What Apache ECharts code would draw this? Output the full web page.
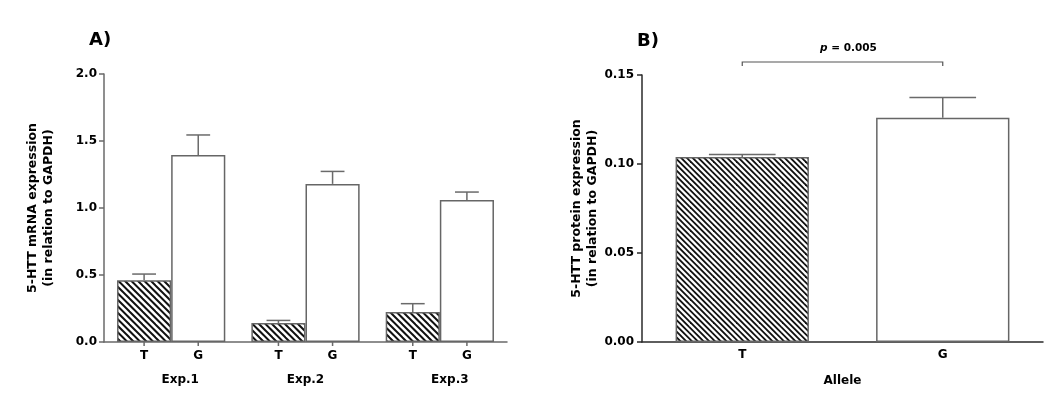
<!DOCTYPE html>
<html>
<head>
<meta charset="utf-8">
<script src="https://cdn.jsdelivr.net/npm/echarts@6/dist/echarts.min.js"></script>
<style>
html,body{margin:0;padding:0;background:#fff;}
#c{width:1050px;height:402px;}
</style>
</head>
<body>
<div id="c"></div>
<script>
// ---- data ----
var experiments = ['Exp.1', 'Exp.2', 'Exp.3'];
var alleles = ['T', 'G'];
var mrnaT = [0.46, 0.142, 0.224];
var mrnaTErr = [0.047, 0.019, 0.062];
var mrnaG = [1.395, 1.18, 1.06];
var mrnaGErr = [0.15, 0.093, 0.059];
var protein = [0.1039, 0.126];
var proteinErr = [0.0015, 0.0114];
var mrnaTicks = [0, 0.5, 1.0, 1.5, 2.0];
var proteinTicks = [0, 0.05, 0.10, 0.15];
var sigLevel = 0.1573;
var sigLabel = 'p = 0.005';

// ---- styles ----
var FONT = 'DejaVu Sans';
var axisA = '#6a6a6a';
var axisB = '#2a2a2a';
var barBorder = '#666';
var barFracA = 0.403;
var barFracB = 0.665;

function hatch(size, gap, lw) {
  var c = document.createElement('canvas');
  c.width = size; c.height = size;
  var ctx = c.getContext('2d');
  ctx.fillStyle = '#fff';
  ctx.fillRect(0, 0, size, size);
  ctx.strokeStyle = '#111';
  ctx.lineWidth = lw;
  for (var k = -size; k <= size; k += gap) {
    ctx.beginPath();
    ctx.moveTo(k - 2, -2);
    ctx.lineTo(k + size + 2, size + 2);
    ctx.stroke();
  }
  return c;
}
var hatchA = { image: hatch(13, 6.5, 2), repeat: 'repeat' };
var hatchB = { image: hatch(23, 5.75, 1.9), repeat: 'repeat' };

var errDataA = [];
for (var i = 0; i < experiments.length; i++) {
  errDataA.push([i, mrnaT[i], mrnaTErr[i], 0]);
  errDataA.push([i, mrnaG[i], mrnaGErr[i], 1]);
}
var errDataB = protein.map(function (v, i) { return [i, v, proteinErr[i]]; });

var chart = echarts.init(document.getElementById('c'), null, { renderer: 'canvas' });

var txt = { fontFamily: FONT, fontWeight: 'bold', color: '#000', fontSize: 12 };

var option = {
  backgroundColor: '#fff',
  animation: false,
  title: [
    { text: 'A)', left: 84, top: 26, textStyle: { fontFamily: FONT, fontWeight: 'bold', fontSize: 18, color: '#000' } },
    { text: 'B)', left: 632, top: 27, textStyle: { fontFamily: FONT, fontWeight: 'bold', fontSize: 18, color: '#000' } }
  ],
  grid: [
    { left: 104, top: 74, width: 403, height: 268 },
    { left: 642, top: 75, width: 401, height: 267 }
  ],
  xAxis: [
    {
      type: 'category', gridIndex: 0, data: experiments, boundaryGap: true,
      axisLine: { lineStyle: { color: axisA, width: 1.5 } },
      axisTick: { show: false },
      axisLabel: {
        margin: 2, interval: 0,
        formatter: function (v, idx) {
          return '{t|' + alleles[0] + '}{g|' + alleles[1] + '}\n{e' + idx + '|' + v + '}';
        },
        rich: {
          t: { width: 54, align: 'center', lineHeight: 24, fontFamily: FONT, fontWeight: 'bold', fontSize: 12, color: '#000' },
          g: { width: 54, align: 'center', lineHeight: 24, fontFamily: FONT, fontWeight: 'bold', fontSize: 12, color: '#000' },
          e0: { align: 'center', lineHeight: 24, padding: [0, 0, 0, 18], fontFamily: FONT, fontWeight: 'bold', fontSize: 12, color: '#000' },
          e1: { align: 'center', lineHeight: 24, padding: [0, 0, 0, 0], fontFamily: FONT, fontWeight: 'bold', fontSize: 12, color: '#000' },
          e2: { align: 'center', lineHeight: 24, padding: [0, 0, 0, 20], fontFamily: FONT, fontWeight: 'bold', fontSize: 12, color: '#000' }
        }
      }
    },
    {
      type: 'category', gridIndex: 1, data: alleles, boundaryGap: true,
      axisLine: { lineStyle: { color: axisB, width: 1.5 } },
      axisTick: { alignWithLabel: true, length: 5, lineStyle: { color: axisB, width: 1.5 } },
      axisLabel: Object.assign({ margin: 7 }, txt),
      name: 'Allele', nameLocation: 'middle', nameGap: 33,
      nameTextStyle: Object.assign({}, txt)
    }
  ],
  yAxis: [
    {
      type: 'value', gridIndex: 0, min: mrnaTicks[0], max: mrnaTicks[mrnaTicks.length - 1], interval: 0.5,
      axisLine: { show: true, lineStyle: { color: axisA, width: 1.5 } },
      axisTick: { show: true, length: 5, lineStyle: { color: axisA, width: 1.5 } },
      splitLine: { show: false },
      axisLabel: Object.assign({ margin: 7, formatter: function (v) { return v.toFixed(1); } }, txt),
      name: '5-HTT mRNA expression\n(in relation to GAPDH)', nameLocation: 'middle', nameGap: 47, nameRotate: 90,
      nameTextStyle: Object.assign({ lineHeight: 16, align: 'center' }, txt, { fontSize: 12.5 })
    },
    {
      type: 'value', gridIndex: 1, min: proteinTicks[0], max: proteinTicks[proteinTicks.length - 1], interval: 0.05,
      axisLine: { show: true, lineStyle: { color: axisB, width: 1.5 } },
      axisTick: { show: true, length: 5, lineStyle: { color: axisB, width: 1.5 } },
      splitLine: { show: false },
      axisLabel: Object.assign({ margin: 8, formatter: function (v) { return v.toFixed(2); } }, txt),
      name: '5-HTT protein expression\n(in relation to GAPDH)', nameLocation: 'middle', nameGap: 41, nameRotate: 90,
      nameTextStyle: Object.assign({ lineHeight: 16, align: 'center' }, txt, { fontSize: 12.5 })
    }
  ],
  series: [
    {
      name: 'T', type: 'bar', xAxisIndex: 0, yAxisIndex: 0, data: mrnaT,
      barWidth: (barFracA * 100) + '%', barGap: '0%',
      itemStyle: { color: hatchA, borderColor: barBorder, borderWidth: 1.5 }
    },
    {
      name: 'G', type: 'bar', xAxisIndex: 0, yAxisIndex: 0, data: mrnaG,
      barWidth: (barFracA * 100) + '%', barGap: '0%',
      itemStyle: { color: '#fff', borderColor: barBorder, borderWidth: 1.5 }
    },
    {
      type: 'custom', xAxisIndex: 0, yAxisIndex: 0, data: errDataA, z: 5,
      encode: { x: 0, y: 1 },
      renderItem: function (params, api) {
        var cat = api.value(0), v = api.value(1), e = api.value(2), k = api.value(3);
        var band = api.size([1, 0])[0];
        var bw = band * barFracA;
        var p = api.coord([cat, v]);
        var cx = p[0] + (k - 0.5) * bw;
        var top = api.coord([cat, v + e])[1];
        var y0 = api.coord([cat, 0])[1];
        var cap = bw * 0.22;
        var ls = { stroke: axisA, lineWidth: 1.5 };
        return {
          type: 'group',
          children: [
            { type: 'line', shape: { x1: cx, y1: p[1], x2: cx, y2: top }, style: ls },
            { type: 'line', shape: { x1: cx - cap, y1: top, x2: cx + cap, y2: top }, style: ls },
            { type: 'line', shape: { x1: cx, y1: y0, x2: cx, y2: y0 + 4 }, style: ls }
          ]
        };
      }
    },
    {
      name: 'Protein', type: 'bar', xAxisIndex: 1, yAxisIndex: 1,
      data: protein.map(function (v, i) {
        return { value: v, itemStyle: { color: i === 0 ? hatchB : '#fff' } };
      }),
      barWidth: (barFracB * 100) + '%',
      itemStyle: { borderColor: barBorder, borderWidth: 1.5 }
    },
    {
      type: 'custom', xAxisIndex: 1, yAxisIndex: 1, data: errDataB, z: 5,
      encode: { x: 0, y: 1 },
      renderItem: function (params, api) {
        var cat = api.value(0), v = api.value(1), e = api.value(2);
        var band = api.size([1, 0])[0];
        var bw = band * barFracB;
        var p = api.coord([cat, v]);
        var top = api.coord([cat, v + e])[1];
        var cap = bw * 0.25;
        var ls = { stroke: axisA, lineWidth: 1.5 };
        return {
          type: 'group',
          children: [
            { type: 'line', shape: { x1: p[0], y1: p[1], x2: p[0], y2: top }, style: ls },
            { type: 'line', shape: { x1: p[0] - cap, y1: top, x2: p[0] + cap, y2: top }, style: ls }
          ]
        };
      }
    },
    {
      type: 'custom', xAxisIndex: 1, yAxisIndex: 1, data: [[0, 1, sigLevel]], z: 5,
      encode: { x: [0, 1], y: 2 },
      renderItem: function (params, api) {
        var lvl = api.value(2);
        var a = api.coord([api.value(0), lvl]);
        var b = api.coord([api.value(1), lvl]);
        var y = a[1];
        return {
          type: 'group',
          children: [
            { type: 'polyline', shape: { points: [[a[0], y + 4], [a[0], y], [b[0], y], [b[0], y + 4]] },
              style: { stroke: '#555', lineWidth: 1.2, fill: null } },
            { type: 'text', x: (a[0] + b[0]) / 2 + 6, y: y - 14,
              style: { text: '{i|p}' + sigLabel.slice(1), rich: { i: { fontStyle: 'italic', fontFamily: FONT, fontWeight: 'bold', fontSize: 10.5, fill: '#000' } },
                       fontFamily: FONT, fontWeight: 'bold', fontSize: 10.5, fill: '#000', align: 'center', verticalAlign: 'middle' } }
          ]
        };
      }
    }
  ]
};
chart.setOption(option);
</script>
</body>
</html>
